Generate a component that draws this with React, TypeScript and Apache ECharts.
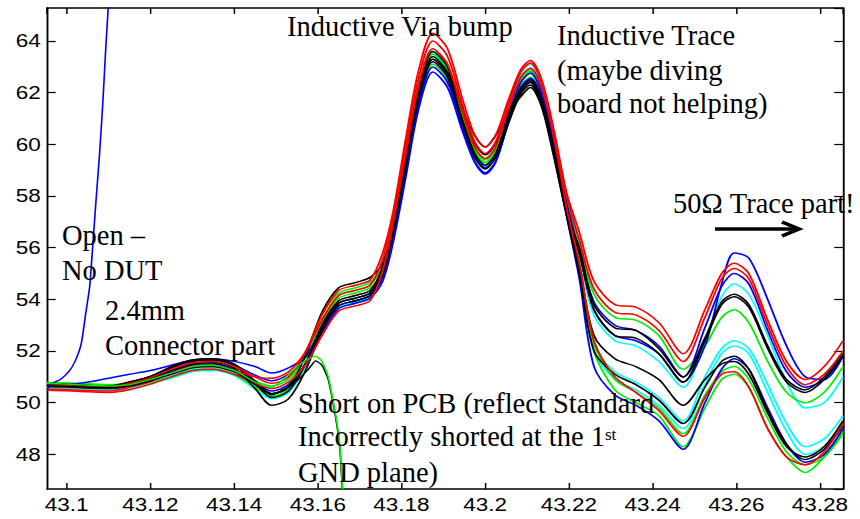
import React, { useEffect, useRef } from 'react';
import * as echarts from 'echarts';

// ---------- data ----------
const X_MIN = 43.0953;
const X_MAX = 43.2855;
const Y_MIN = 46.66;
const Y_MAX = 65.28;

const XS = [
  43.0953, 43.1, 43.105, 43.11, 43.115, 43.12, 43.125, 43.13, 43.135, 43.14, 43.145, 43.149,
  43.153, 43.157, 43.161, 43.165, 43.169, 43.1725, 43.1755, 43.178, 43.181, 43.184, 43.1875,
  43.191, 43.1945, 43.1975, 43.2, 43.2025, 43.2055, 43.2085, 43.2108, 43.2135, 43.2165, 43.2195,
  43.2225, 43.226, 43.231, 43.236, 43.2415, 43.2473, 43.2525, 43.2565, 43.2595, 43.263, 43.2675,
  43.272, 43.2765, 43.281, 43.2855,
];

const RED_A = [50.68, 50.66, 50.62, 50.6, 50.75, 50.97, 51.3, 51.55, 51.6, 51.4, 51.0, 50.75, 51.0, 51.95, 53.4, 54.35, 54.55, 54.75, 55.8, 57.4, 60.2, 62.8, 64.3, 63.7, 61.8, 60.35, 59.9, 60.35, 61.7, 62.9, 63.25, 62.5, 60.5, 58.1,
  56.6, 54.7, 53.8, 53.7, 53.1, 51.9, 53.6, 55.0, 55.4, 55.0, 53.2, 51.6, 50.9, 51.4, 52.4];
const RED_B = [50.53, 50.51, 50.47, 50.45, 50.6, 50.82, 51.15, 51.4, 51.45, 51.25, 51.0, 50.95, 51.2, 51.95, 53.2, 54.15, 54.35, 54.55, 55.55, 57.2, 59.9, 62.5, 64.0, 63.4, 61.55, 60.1, 59.65, 60.1, 61.55, 62.8, 63.15, 62.4, 60.4, 58.0,
  56.3, 54.4, 53.5, 53.4, 52.8, 51.6, 53.3, 54.8, 55.2, 54.8, 53.0, 51.4, 50.7, 51.1, 52.0];
const RED_C = [50.48, 50.46, 50.42, 50.4, 50.5, 50.72, 51.0, 51.25, 51.3, 51.1, 50.75, 50.55, 50.8, 51.45, 52.6, 53.55, 53.75, 53.95, 55.1, 56.95, 59.6, 62.2, 63.7, 63.1, 61.3, 59.9, 59.45, 59.9, 61.35, 62.6, 62.95, 62.2, 60.2, 57.5,
  55.4, 52.4, 51.0, 50.4, 49.7, 48.7, 50.2, 51.1, 51.2, 50.6, 49.0, 47.9, 47.6, 48.1, 49.2];
const BLUE_A = [50.73, 50.71, 50.8, 50.95, 51.1, 51.25, 51.45, 51.65, 51.7, 51.6, 51.4, 51.15, 51.35, 51.78, 52.7, 53.65, 53.85, 54.05, 54.7, 56.2, 58.7, 61.3, 62.8, 62.2, 60.55, 59.3, 58.85, 59.3, 60.85, 62.2, 62.55, 61.8, 59.8, 57.4,
  55.8, 53.6, 52.6, 52.4, 51.9, 50.8, 52.2, 54.6, 55.8, 55.6, 54.0, 52.2, 51.0, 50.9, 51.8];
const BLUE_B = [50.68, 50.66, 50.62, 50.6, 50.77, 51.0, 51.35, 51.6, 51.65, 51.45, 51.07, 50.85, 51.1, 51.75, 52.9, 53.85, 54.05, 54.25, 55.05, 56.6, 59.2, 61.8, 63.3, 62.7, 60.9, 59.55, 59.1, 59.55, 61.1, 62.4, 62.75, 62.0, 60.0, 57.7,
  55.9, 53.9, 53.0, 52.8, 52.2, 51.0, 52.9, 54.5, 55.0, 54.6, 52.8, 51.2, 50.6, 50.9, 51.8];
const BLUE_C = [50.73, 50.71, 50.67, 50.65, 50.72, 50.95, 51.2, 51.45, 51.5, 51.3, 50.8, 50.45, 50.7, 51.5, 52.8, 53.75, 53.95, 54.15, 54.85, 56.4, 58.9, 61.5, 63.0, 62.4, 60.7, 59.35, 58.9, 59.35, 60.8, 62.1, 62.45, 61.7, 59.7, 57.2,
  54.8, 51.4, 50.3, 49.9, 49.3, 48.2, 50.0, 51.3, 51.7, 51.3, 49.8, 48.4, 47.7, 48.0, 49.0];
const GREEN_A = [50.78, 50.76, 50.72, 50.7, 50.75, 50.97, 51.2, 51.45, 51.5, 51.3, 50.75, 50.35, 50.7, 51.9, 53.4, 54.25, 54.45, 54.65, 55.35, 56.8, 59.4, 62.0, 63.5, 62.9, 61.1, 59.75, 59.3, 59.75, 61.2, 62.45, 62.8, 62.05, 60.05, 57.8,
  56.2, 54.2, 53.3, 53.2, 52.6, 51.3, 52.2, 53.3, 53.6, 53.1, 51.6, 50.4, 50.0, 50.4, 51.4];
const GREEN_B = [50.73, 50.71, 50.67, 50.65, 50.62, 50.8, 51.0, 51.25, 51.3, 51.1, 50.6, 50.25, 50.5, 51.55, 53.1, 54.05, 54.25, 54.45, 55.05, 56.45, 59.0, 61.6, 63.1, 62.5, 60.8, 59.55, 59.1, 59.55, 61.0, 62.25, 62.6, 61.85, 59.85, 57.3,
  55.2, 52.0, 50.5, 50.0, 49.5, 48.3, 49.8, 50.9, 51.1, 50.6, 49.0, 47.9, 47.3, 47.9, 48.9];
const GREEN_C = [50.78, 50.76, 50.72, 50.7, 50.7, 50.92, 51.1, 51.35, 51.4, 51.2, 50.85, 50.65, 50.9, 51.8, 53.2, 54.15, 54.35, 54.55, 55.35, 56.85, 59.5, 62.1, 63.6, 63.0, 61.2, 59.85, 59.4, 59.85, 61.3, 62.5, 62.85, 62.1, 60.1, 57.6,
  55.4, 52.3, 50.9, 50.4, 49.8, 48.8, 50.3, 51.2, 51.4, 50.9, 49.4, 48.1, 47.6, 47.9, 48.8];
const BLACK_A = [50.68, 50.66, 50.62, 50.6, 50.8, 51.02, 51.4, 51.65, 51.7, 51.5, 50.85, 50.35, 50.6, 51.8, 53.5, 54.45, 54.65, 54.85, 55.4, 56.7, 59.3, 61.9, 63.4, 62.8, 61.4, 60.35, 59.9, 60.35, 61.2, 61.85, 62.2, 61.45, 59.45, 57.3,
  56.0, 53.8, 52.9, 52.8, 52.1, 51.0, 52.5, 53.9, 54.2, 53.8, 52.2, 50.9, 50.5, 51.0, 51.9];
const BLACK_B = [50.73, 50.71, 50.67, 50.65, 50.8, 51.02, 51.35, 51.6, 51.65, 51.45, 50.75, 50.2, 50.45, 51.47, 53.0, 53.95, 54.15, 54.35, 55.25, 56.85, 59.5, 62.1, 63.6, 63.0, 61.35, 60.05, 59.6, 60.05, 61.2, 62.15, 62.5, 61.75, 59.75, 57.5,
  55.8, 53.6, 52.6, 52.5, 51.9, 50.8, 52.4, 53.8, 54.1, 53.7, 52.1, 50.8, 50.4, 50.9, 51.8];
const BLACK_C = [50.68, 50.66, 50.62, 50.6, 50.72, 50.95, 51.25, 51.5, 51.55, 51.35, 50.55, 49.9, 50.15, 51.22, 52.8, 53.75, 53.95, 54.15, 54.95, 56.55, 59.1, 61.7, 63.2, 62.6, 60.85, 59.5, 59.05, 59.5, 60.8, 61.95, 62.3, 61.55, 59.55, 57.2,
  55.0, 52.0, 51.1, 50.7, 50.1, 49.2, 50.6, 51.6, 51.8, 51.3, 49.7, 48.4, 47.8, 48.2, 49.1];
const BLACK_D = [50.63, 50.61, 50.57, 50.55, 50.65, 50.87, 51.15, 51.4, 51.45, 51.25, 50.72, 50.35, 50.6, 51.5, 52.9, 53.85, 54.05, 54.25, 55.05, 56.6, 59.2, 61.8, 63.3, 62.7, 60.98, 59.65, 59.2, 59.65, 60.95, 62.05, 62.4, 61.65, 59.65, 57.3,
  55.3, 52.6, 51.7, 51.4, 50.9, 49.9, 50.9, 51.5, 51.6, 51.1, 49.6, 48.3, 47.9, 48.3, 49.3];
const CYAN_A = [50.58, 50.56, 50.52, 50.5, 50.55, 50.77, 51.0, 51.25, 51.3, 51.1, 50.65, 50.35, 50.6, 51.5, 52.9, 53.85, 54.05, 54.25, 55.25, 56.95, 59.6, 62.2, 63.7, 63.1, 61.23, 59.75, 59.3, 59.75, 61.35, 62.75, 63.1, 62.35, 60.35, 57.8,
  55.6, 53.4, 52.4, 52.2, 51.6, 50.6, 52.4, 54.1, 54.6, 54.2, 52.6, 50.8, 49.8, 50.0, 51.0];
const CYAN_B = [50.58, 50.56, 50.52, 50.5, 50.52, 50.75, 50.95, 51.2, 51.25, 51.05, 50.52, 50.15, 50.4, 51.3, 52.7, 53.65, 53.85, 54.05, 55.05, 56.78, 59.4, 62.0, 63.5, 62.9, 61.08, 59.65, 59.2, 59.65, 61.2, 62.55, 62.9, 62.15, 60.15, 57.4,
  55.1, 52.2, 51.2, 50.8, 50.2, 49.3, 51.0, 52.1, 52.4, 52.1, 50.7, 49.2, 48.3, 48.6, 49.5];
const CYAN_C = [50.63, 50.61, 50.57, 50.55, 50.6, 50.82, 51.05, 51.3, 51.35, 51.15, 50.62, 50.25, 50.5, 51.37, 52.75, 53.7, 53.9, 54.1, 55.03, 56.7, 59.3, 61.9, 63.4, 62.8, 61.0, 59.6, 59.15, 59.6, 61.1, 62.45, 62.8, 62.05, 60.05, 57.4,
  55.0, 52.0, 50.9, 50.5, 49.9, 49.0, 50.7, 51.9, 52.2, 51.9, 50.4, 48.9, 48.0, 48.3, 49.2];

// "Open – No DUT" trace
const OPEN_X = [43.0953, 43.0965, 43.0985, 43.1005, 43.102, 43.1035, 43.1045, 43.1055, 43.1062, 43.107, 43.1078, 43.1086, 43.1093, 43.11];
const OPEN_Y = [50.5, 50.75, 50.9, 51.2, 51.6, 52.3, 53.4, 54.5, 56.0, 57.8, 59.5, 61.5, 63.6, 65.5];

// "Short on PCB" traces
const SHORT_X = [43.0953, 43.1, 43.105, 43.11, 43.115, 43.12, 43.125, 43.13, 43.135, 43.14, 43.145, 43.149, 43.1523, 43.1547, 43.1578, 43.1595, 43.161, 43.1625, 43.1645, 43.1653, 43.1659, 43.1665];
const SHORT_GREEN = [50.75, 50.72, 50.68, 50.65, 50.7, 50.9, 51.15, 51.4, 51.45, 51.25, 50.8, 50.6, 50.98, 51.36, 51.7, 51.8, 51.6, 51.0, 49.3, 48.3, 46.7, 45.5];
const SHORT_BLACK = [50.65, 50.63, 50.6, 50.58, 50.65, 50.85, 51.1, 51.35, 51.4, 51.2, 50.7, 50.3, 50.55, 50.8, 51.3, 51.62, 51.45, 50.9, 49.2, 48.2, 46.6, 45.5];

const COLORS = { red: '#ff0000', blue: '#0000ff', green: '#00ee00', black: '#000000', cyan: '#00ffff' };

const BUNDLE: { color: string; ys: number[] }[] = [
  { color: COLORS.cyan, ys: CYAN_A },
  { color: COLORS.cyan, ys: CYAN_B },
  { color: COLORS.cyan, ys: CYAN_C },
  { color: COLORS.green, ys: GREEN_A },
  { color: COLORS.green, ys: GREEN_B },
  { color: COLORS.green, ys: GREEN_C },
  { color: COLORS.blue, ys: BLUE_A },
  { color: COLORS.blue, ys: BLUE_B },
  { color: COLORS.blue, ys: BLUE_C },
  { color: COLORS.black, ys: BLACK_A },
  { color: COLORS.black, ys: BLACK_B },
  { color: COLORS.black, ys: BLACK_C },
  { color: COLORS.black, ys: BLACK_D },
  { color: COLORS.red, ys: RED_A },
  { color: COLORS.red, ys: RED_B },
  { color: COLORS.red, ys: RED_C },
];

// ---------- layout ----------
const W = 860;
const H = 519;
const STRETCH = 1.25; // the reference figure is horizontally stretched
const W0 = W / STRETCH;

const SERIF = '"Liberation Serif", "Times New Roman", serif';
const SANS = '"Liberation Sans", Arial, sans-serif';

function label(text: string, xf: number, baseline: number, size = 28.5) {
  return {
    type: 'text',
    x: xf / STRETCH,
    y: baseline - 0.3375 * size,
    scaleX: 1 / STRETCH,
    z: 100,
    silent: true,
    style: {
      text,
      fill: '#000',
      fontSize: size,
      fontFamily: SERIF,
      align: 'left',
      verticalAlign: 'middle',
      textAlign: 'left',
      textVerticalAlign: 'middle',
    },
  };
}

function lineSeries(xs: number[], ys: number[], color: string, smooth = 0.3, width = 1.5, axis = 0) {
  return {
    type: 'line',
    data: xs.map((x, i) => [x, ys[i]]),
    showSymbol: false,
    symbol: 'none',
    smooth,
    clip: true,
    silent: true,
    lineStyle: { color, width },
    xAxisIndex: axis,
    yAxisIndex: axis,
  };
}

function buildOption() {
  const mkLine = () => ({ show: true, onZero: false, lineStyle: { color: '#000', width: 1.5 } });
  const mkTick = (len: number) => ({ show: true, inside: true, length: len, lineStyle: { color: '#000', width: 1.2 } });
  const xBase = { type: 'value', min: X_MIN, max: X_MAX, splitNumber: 9, splitLine: { show: false } };
  const yBase = { type: 'value', min: Y_MIN, max: Y_MAX, splitNumber: 8, splitLine: { show: false } };
  const series: any[] = [];
  BUNDLE.forEach((c) => series.push(lineSeries(XS, c.ys, c.color)));
  // these three traces sit on the top/right axes, which share the same ranges
  series.push(lineSeries(OPEN_X, OPEN_Y, COLORS.blue, 0.2, 1.3, 1));
  series.push(lineSeries(SHORT_X, SHORT_BLACK, COLORS.black, 0.2, 1.3, 1));
  series.push(lineSeries(SHORT_X, SHORT_GREEN, COLORS.green, 0.2, 1.3, 1));

  return {
    animation: false,
    backgroundColor: '#fff',
    grid: {
      left: 47 / STRETCH, right: (W - 843) / STRETCH, top: 8, bottom: H - 489, containLabel: false,
    },
    xAxis: [
      {
        ...xBase,
        show: true,
        position: 'bottom',
        axisLine: mkLine(),
        axisTick: mkTick(6),
        axisLabel: {
          show: true, color: '#000', fontSize: 18, fontFamily: SANS, margin: 7,
          showMinLabel: false, showMaxLabel: false, hideOverlap: false,
        },
      },
      {
        ...xBase,
        show: true,
        position: 'top',
        axisLine: mkLine(),
        axisTick: mkTick(6),
        axisLabel: { show: false },
      },
    ],
    yAxis: [
      {
        ...yBase,
        show: true,
        position: 'left',
        axisLine: mkLine(),
        axisTick: mkTick(7),
        axisLabel: {
          show: true, color: '#000', fontSize: 18, fontFamily: SANS, margin: 5,
          showMinLabel: false, showMaxLabel: false, hideOverlap: false,
        },
      },
      {
        ...yBase,
        show: true,
        position: 'right',
        axisLine: mkLine(),
        axisTick: mkTick(7),
        axisLabel: { show: false },
      },
    ],
    series,
    graphic: [
      label('Inductive Via bump', 287, 36),
      label('Inductive Trace', 557, 45),
      label('(maybe diving', 557, 80),
      label('board not helping)', 557, 113),
      label('50\u03a9 Trace part!', 673, 213),
      label('Open \u2013', 62, 245),
      label('No DUT', 62, 280),
      label('2.4mm', 105, 320),
      label('Connector part', 105, 355),
      label('Short on PCB (reflect Standard', 298, 413),
      label('Incorrectly shorted at the 1', 298, 446),
      label('st', 605, 440, 17),
      label('GND plane)', 298, 482),
      {
        type: 'line',
        z: 100,
        silent: true,
        shape: { x1: 715 / STRETCH, y1: 229, x2: 796 / STRETCH, y2: 229 },
        style: { stroke: '#000', lineWidth: 3.5 },
      },
      {
        type: 'polyline',
        z: 100,
        silent: true,
        shape: { points: [[782 / STRETCH, 222], [799 / STRETCH, 229], [782 / STRETCH, 236]] },
        style: { stroke: '#000', lineWidth: 3.5, fill: 'none' },
      },
    ],
  };
}

export default function App() {
  const ref = useRef<HTMLDivElement>(null);
  useEffect(() => {
    if (!ref.current) return;
    const chart = echarts.init(ref.current, null, { renderer: 'svg', width: W0, height: H });
    chart.setOption(buildOption() as any);
    return () => chart.dispose();
  }, []);
  return (
    <div style={{ position: 'absolute', left: 0, top: 0, width: W, height: H, overflow: 'hidden', background: '#fff' }}>
      <div
        ref={ref}
        style={{ width: W0, height: H, transform: `scaleX(${STRETCH})`, transformOrigin: '0 0' }}
      />
    </div>
  );
}
